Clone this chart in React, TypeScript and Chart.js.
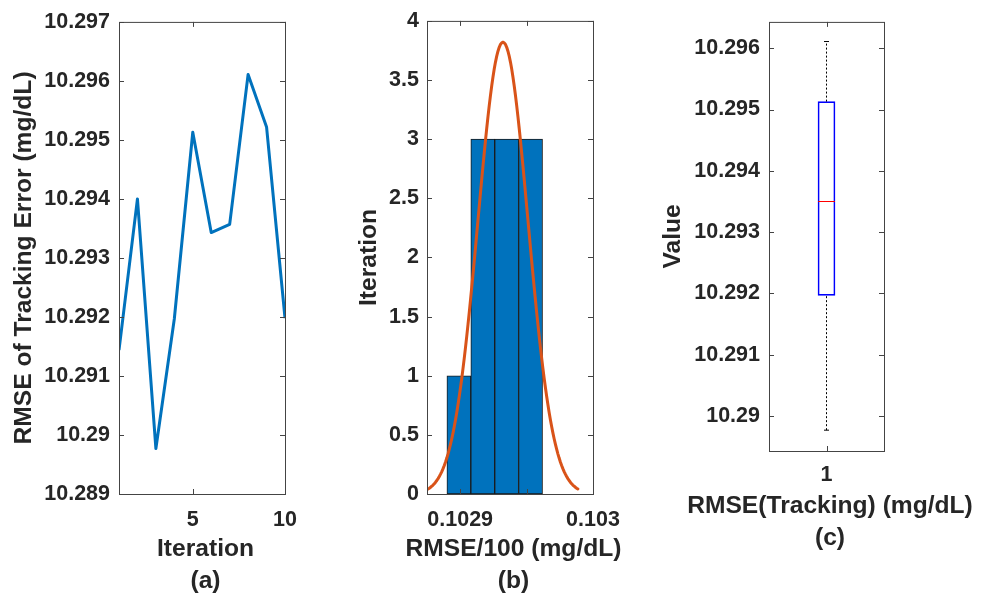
import React, { useEffect, useRef } from 'react';
import { Chart, registerables } from 'chart.js';

Chart.register(...registerables);

// ---------------- data ----------------
// (a) RMSE of tracking error per iteration
const ITERATIONS = [1, 2, 3, 4, 5, 6, 7, 8, 9, 10];
const RMSE_TRACKING = [10.29144, 10.294, 10.28977, 10.29197, 10.29513, 10.29343, 10.29357, 10.29611, 10.29522, 10.29198];
const A_X_TICKS = [5, 10];
const A_Y_TICKS = [10.289, 10.29, 10.291, 10.292, 10.293, 10.294, 10.295, 10.296, 10.297];
const A_X_TITLE = ['Iteration', '(a)'];
const A_Y_TITLE = 'RMSE of Tracking Error (mg/dL)';

// (b) histogram of RMSE/100 with a normal fit
const HIST_EDGES = [0.10289, 0.102908, 0.102926, 0.102944, 0.102962];
const HIST_COUNTS = [1, 3, 3, 3];
const FIT_MEAN = 0.1029322;
const FIT_SIGMA = 0.0000188;
const B_X_TICKS = [0.1029, 0.10295, 0.103];
const B_X_TICK_LABELS = ['0.1029', '', '0.103'];
const B_Y_TICKS = [0, 0.5, 1, 1.5, 2, 2.5, 3, 3.5, 4];
const B_X_TITLE = ['RMSE/100 (mg/dL)', '(b)'];
const B_Y_TITLE = 'Iteration';

// (c) box plot of the same RMSE values
const BOX_GROUPS = [1];
const BOX_GROUP_LABELS = ['1'];
const C_Y_TICKS = [10.29, 10.291, 10.292, 10.293, 10.294, 10.295, 10.296];
const C_Y_MIN = 10.28943;
const C_Y_MAX = 10.29643;
const C_X_TITLE = ['RMSE(Tracking) (mg/dL)', '(c)'];
const C_Y_TITLE = 'Value';

// ---------------- styles ----------------
const H = 597;
const FONT = '"Liberation Sans", Arial, Helvetica, sans-serif';
const TEXT_COLOR = '#262626';
const AXIS_COLOR = '#444444';
const TICK_FONT = { family: FONT, size: 21.5, weight: 'bold' as const };
const TITLE_FONT = { family: FONT, size: 24.6, weight: 'bold' as const };
const TICK_LEN = 5;

// ---------------- helpers ----------------
function matlabQuantile(sorted: number[], p: number) {
  const n = sorted.length;
  const pos = n * p + 0.5;
  if (pos <= 1) return sorted[0];
  if (pos >= n) return sorted[n - 1];
  const lo = Math.floor(pos);
  const frac = pos - lo;
  return sorted[lo - 1] + frac * (sorted[lo] - sorted[lo - 1]);
}

function boxStats(values: number[]) {
  const s = [...values].sort((a, b) => a - b);
  const q1 = matlabQuantile(s, 0.25);
  const med = matlabQuantile(s, 0.5);
  const q3 = matlabQuantile(s, 0.75);
  const iqr = q3 - q1;
  const upper = Math.max(...s.filter((v) => v <= q3 + 1.5 * iqr));
  const lower = Math.min(...s.filter((v) => v >= q1 - 1.5 * iqr));
  return { q1, med, q3, upper, lower };
}

function fixedTicks(values: number[]) {
  return (scale: any) => {
    scale.ticks = values.map((v) => ({ value: v }));
  };
}

function matlabAxes(xTitle: string[]) {
  return {
    id: 'matlabAxes',
    afterDraw(chart: any) {
      const { ctx } = chart;
      const { left, right, top, bottom } = chart.chartArea;
      const xs = chart.scales.x;
      const ys = chart.scales.y;
      ctx.save();
      ctx.strokeStyle = AXIS_COLOR;
      ctx.lineWidth = 1;
      ctx.setLineDash([]);
      ctx.beginPath();
      xs.ticks.forEach((t: any) => {
        const p = Math.round(xs.getPixelForValue(t.value)) + 0.5;
        ctx.moveTo(p, bottom);
        ctx.lineTo(p, bottom - TICK_LEN);
        ctx.moveTo(p, top);
        ctx.lineTo(p, top + TICK_LEN);
      });
      ys.ticks.forEach((t: any) => {
        const p = Math.round(ys.getPixelForValue(t.value)) + 0.5;
        ctx.moveTo(left, p);
        ctx.lineTo(left + TICK_LEN, p);
        ctx.moveTo(right, p);
        ctx.lineTo(right - TICK_LEN, p);
      });
      ctx.stroke();
      ctx.strokeRect(left + 0.5, top + 0.5, right - left, bottom - top);

      ctx.fillStyle = TEXT_COLOR;
      ctx.font = `bold ${TITLE_FONT.size}px ${FONT}`;
      ctx.textAlign = 'center';
      ctx.textBaseline = 'middle';
      const cx = (left + right) / 2 + 3.5;
      xTitle.forEach((line, i) => ctx.fillText(line, cx, bottom + 55.5 + i * 32));
      ctx.restore();
    },
  };
}

function xScale(opts: any) {
  return {
    type: 'linear',
    offset: false,
    grid: { display: false, drawTicks: false, offset: false },
    border: { display: false },
    ...opts,
    ticks: {
      font: TICK_FONT,
      color: TEXT_COLOR,
      maxRotation: 0,
      minRotation: 0,
      autoSkip: false,
      ...opts.ticks,
    },
  };
}

function yScale(opts: any, title: string, titlePad: number) {
  return {
    type: 'linear',
    grid: { display: false, drawTicks: false },
    border: { display: false },
    title: {
      display: true,
      text: title,
      font: TITLE_FONT,
      color: TEXT_COLOR,
      padding: { top: titlePad, bottom: 0 },
    },
    ...opts,
    ticks: {
      font: TICK_FONT,
      color: TEXT_COLOR,
      autoSkip: false,
      ...opts.ticks,
    },
  };
}

const fmt3 = (v: any) => String(parseFloat(Number(v).toFixed(3)));

function baseOptions(padRight: number) {
  return {
    responsive: false,
    animation: false as const,
    devicePixelRatio: 1,
    layout: { padding: { left: 0, top: 16, right: padRight, bottom: 0 } },
    plugins: { legend: { display: false }, tooltip: { enabled: false }, title: { display: false } },
  };
}

// ---------------- configs ----------------
function makeLineConfig(): any {
  return {
    type: 'line',
    data: {
      datasets: [
        {
          data: ITERATIONS.map((x, i) => ({ x, y: RMSE_TRACKING[i] })),
          borderColor: '#0072BD',
          borderWidth: 3,
          borderJoinStyle: 'round',
          pointRadius: 0,
          tension: 0,
          fill: false,
        },
      ],
    },
    options: {
      ...baseOptions(45),
      scales: {
        x: xScale({
          min: 1,
          max: 10,
          afterBuildTicks: fixedTicks(A_X_TICKS),
          afterFit: (s: any) => { s.height = 103; },
          ticks: { padding: 13, callback: (v: any) => String(v) },
        }),
        y: yScale({
          min: 10.289,
          max: 10.297,
          afterBuildTicks: fixedTicks(A_Y_TICKS),
          afterFit: (s: any) => { s.width = 119; },
          ticks: { padding: 9, callback: fmt3 },
        }, A_Y_TITLE, 9.3),
      },
    },
    plugins: [matlabAxes(A_X_TITLE)],
  };
}

function makeHistConfig(): any {
  const binWidth = HIST_EDGES[1] - HIST_EDGES[0];
  const total = HIST_COUNTS.reduce((a, b) => a + b, 0);
  const scale = (total * binWidth) / (FIT_SIGMA * Math.sqrt(2 * Math.PI));
  const samples = 121;
  const curve = Array.from({ length: samples }, (_, k) => {
    const x = FIT_MEAN - 3 * FIT_SIGMA + (6 * FIT_SIGMA * k) / (samples - 1);
    const z = (x - FIT_MEAN) / FIT_SIGMA;
    return { x, y: scale * Math.exp(-0.5 * z * z) };
  });
  const bars = HIST_COUNTS.map((c, i) => ({ x: (HIST_EDGES[i] + HIST_EDGES[i + 1]) / 2, y: c }));
  return {
    type: 'bar',
    data: {
      datasets: [
        {
          type: 'line',
          data: curve,
          borderColor: '#D95319',
          borderWidth: 3,
          borderJoinStyle: 'round',
          borderCapStyle: 'round',
          pointRadius: 0,
          tension: 0,
          fill: false,
        },
        {
          type: 'bar',
          data: bars,
          backgroundColor: '#0072BD',
          borderColor: '#1a1a1a',
          borderWidth: 1,
          borderSkipped: false,
          categoryPercentage: 1,
          barPercentage: 1,
          grouped: false,
        },
      ],
    },
    options: {
      ...baseOptions(57),
      scales: {
        x: xScale({
          min: 0.102875,
          max: 0.103,
          afterBuildTicks: fixedTicks(B_X_TICKS),
          afterFit: (s: any) => { s.height = 103; },
          ticks: { padding: 13, callback: (_v: any, i: number) => B_X_TICK_LABELS[i] },
        }),
        y: yScale({
          min: 0,
          max: 4,
          afterBuildTicks: fixedTicks(B_Y_TICKS),
          afterFit: (s: any) => { s.width = 97; },
          ticks: { padding: 8, callback: (v: any) => String(v) },
        }, B_Y_TITLE, 24.3),
      },
    },
    plugins: [matlabAxes(B_X_TITLE)],
  };
}

function makeBoxConfig(): any {
  const st = boxStats(RMSE_TRACKING);
  return {
    type: 'bar',
    data: {
      datasets: [
        {
          type: 'line',
          data: BOX_GROUPS.map((g) => ({ x: g, y: st.med })),
          showLine: false,
          pointStyle: 'line',
          pointRadius: 8.5,
          pointBorderColor: '#FF0000',
          pointBackgroundColor: '#FF0000',
          pointBorderWidth: 1,
        },
        {
          type: 'line',
          data: BOX_GROUPS.flatMap((g) => [{ x: g, y: st.upper }, { x: g, y: st.lower }]),
          showLine: false,
          pointStyle: 'line',
          pointRadius: 2.5,
          pointBorderColor: '#000000',
          pointBackgroundColor: '#000000',
          pointBorderWidth: 1,
        },
        {
          type: 'line',
          data: BOX_GROUPS.flatMap((g) => [{ x: g, y: st.q3 }, { x: g, y: st.upper }]),
          borderColor: '#000000',
          borderWidth: 1,
          borderDash: [2, 2],
          pointRadius: 0,
          tension: 0,
        },
        {
          type: 'line',
          data: BOX_GROUPS.flatMap((g) => [{ x: g, y: st.lower }, { x: g, y: st.q1 }]),
          borderColor: '#000000',
          borderWidth: 1,
          borderDash: [2, 2],
          pointRadius: 0,
          tension: 0,
        },
        {
          type: 'bar',
          data: BOX_GROUPS.map((g) => ({ x: g, y: [st.q1, st.q3] })),
          backgroundColor: 'rgba(0,0,0,0)',
          borderColor: '#0000FF',
          borderWidth: 1,
          borderSkipped: false,
          barThickness: 17,
          grouped: false,
        },
      ],
    },
    options: {
      ...baseOptions(97),
      scales: {
        x: xScale({
          min: 0.5,
          max: 1.5,
          afterBuildTicks: fixedTicks(BOX_GROUPS),
          afterFit: (s: any) => { s.height = 146; },
          ticks: { padding: 11.5, callback: (_v: any, i: number) => BOX_GROUP_LABELS[i] },
        }),
        y: yScale({
          min: C_Y_MIN,
          max: C_Y_MAX,
          afterBuildTicks: fixedTicks(C_Y_TICKS),
          afterFit: (s: any) => { s.width = 119; },
          ticks: { padding: 9, callback: fmt3 },
        }, C_Y_TITLE, 8.3),
      },
    },
    plugins: [matlabAxes(C_X_TITLE)],
  };
}

// ---------------- components ----------------
function Panel({ left, width, make }: { left: number; width: number; make: () => any }) {
  const ref = useRef<HTMLCanvasElement | null>(null);
  useEffect(() => {
    if (!ref.current) return;
    const chart = new Chart(ref.current, make());
    return () => chart.destroy();
  }, [make]);
  return (
    <canvas
      ref={ref}
      width={width}
      height={H}
      style={{ position: 'absolute', left, top: 0, width, height: H }}
    />
  );
}

export default function App() {
  return (
    <div
      style={{
        position: 'absolute',
        left: 0,
        top: 0,
        width: 981,
        height: H,
        background: '#ffffff',
        overflow: 'hidden',
      }}
    >
      <Panel left={0} width={330} make={makeLineConfig} />
      <Panel left={330} width={320} make={makeHistConfig} />
      <Panel left={650} width={331} make={makeBoxConfig} />
    </div>
  );
}
